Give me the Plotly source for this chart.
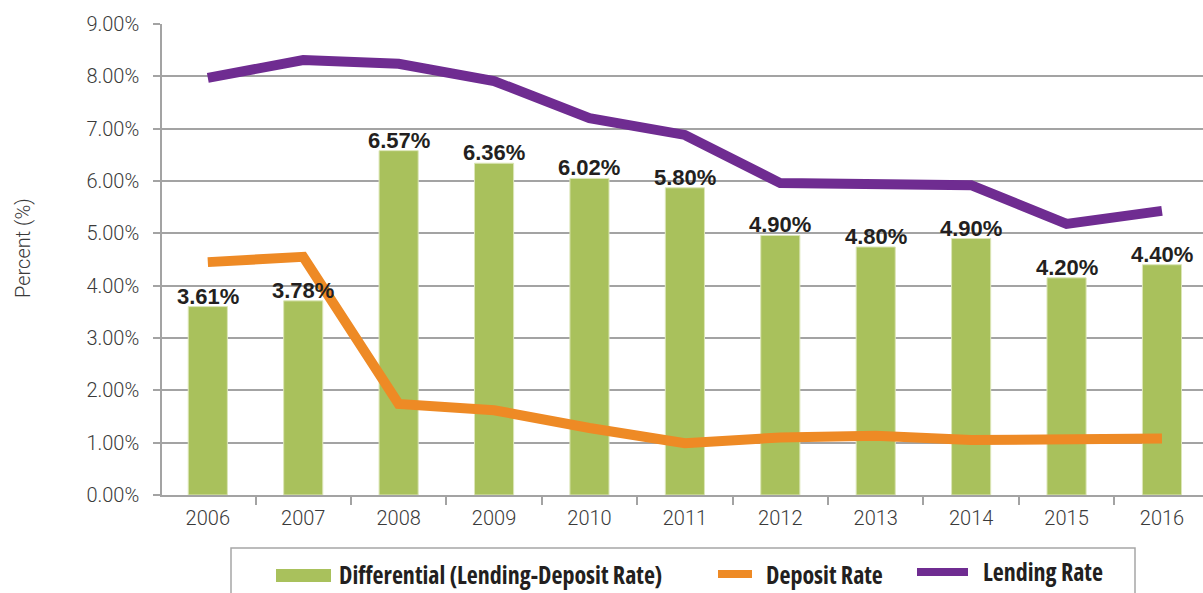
import plotly.graph_objects as go

years = ["2006", "2007", "2008", "2009", "2010", "2011", "2012", "2013", "2014", "2015", "2016"]
differential = [3.60, 3.71, 6.58, 6.34, 6.05, 5.87, 4.96, 4.74, 4.90, 4.15, 4.40]
differential_labels = ["3.61%", "3.78%", "6.57%", "6.36%", "6.02%", "5.80%", "4.90%", "4.80%", "4.90%", "4.20%", "4.40%"]
deposit_rate = [4.45, 4.55, 1.74, 1.62, 1.28, 0.99, 1.10, 1.13, 1.05, 1.05, 1.08]
lending_rate = [7.97, 8.31, 8.24, 7.91, 7.20, 6.88, 5.96, 5.94, 5.92, 5.18, 5.43]
series_names = ["Differential (Lending-Deposit Rate)", "Deposit Rate", "Lending Rate"]
y_title = "Percent (%)"
y_ticks = [0, 1, 2, 3, 4, 5, 6, 7, 8, 9]
y_tick_text = [f"{v:.2f}%" for v in y_ticks]

GREEN = "#a9c15c"
ORANGE = "#ee8a25"
PURPLE = "#6f2c91"
GRID = "#a3a3a3"
TXT = "#3a3a3a"
LIGHT_FAMILY = "Roboto, Liberation Sans, Arial, sans-serif"
LIGHT_FONT = dict(family=LIGHT_FAMILY, size=20, color=TXT, weight=300)

W, H = 1203, 593
ML, MR, MT, MB = 162, 0, 24, 98
PW, PH = W - ML - MR, H - MT - MB

def px_x(p):
    return (p - ML) / PW

def px_y(p):
    return (H - MB - p) / PH

fig = go.Figure()
fig.add_trace(go.Bar(
    x=years, y=differential, name=series_names[0],
    marker=dict(color=GREEN, line=dict(color="#dce6b8", width=1)),
    width=0.41, showlegend=False,
))
fig.add_trace(go.Scatter(
    x=years, y=deposit_rate, name=series_names[1], mode="lines",
    line=dict(color=ORANGE, width=10), showlegend=False, cliponaxis=False,
))
fig.add_trace(go.Scatter(
    x=years, y=lending_rate, name=series_names[2], mode="lines",
    line=dict(color=PURPLE, width=10), showlegend=False, cliponaxis=False,
))

# value labels above the bars (drawn on top of the lines); x is the category index
label_font = dict(family="Liberation Sans, Arial, sans-serif", size=22, color="#231f20", weight="bold")
annotations = [
    dict(text=lab, x=i, y=val, xref="x", yref="y", xanchor="center", yanchor="bottom",
         yshift=-4, showarrow=False, font=label_font)
    for i, (val, lab) in enumerate(zip(differential, differential_labels))
]

# y-axis title
annotations.append(dict(
    text=y_title, xref="paper", yref="paper", x=px_x(23), y=px_y(248),
    xanchor="center", yanchor="middle", textangle=-90, showarrow=False,
    font=dict(family=LIGHT_FAMILY, size=20, color=TXT, weight=300),
))

# legend (framed box at the bottom)
shapes = [
    dict(type="rect", xref="paper", yref="paper",
         x0=px_x(231), x1=px_x(1135), y0=px_y(548), y1=px_y(620),
         line=dict(color="#a6a6a6", width=1.5), fillcolor="rgba(0,0,0,0)", layer="above"),
    dict(type="rect", xref="paper", yref="paper",
         x0=px_x(276), x1=px_x(331), y0=px_y(569), y1=px_y(582),
         line=dict(width=0), fillcolor=GREEN),
    dict(type="line", xref="paper", yref="paper",
         x0=px_x(718), x1=px_x(752), y0=px_y(574), y1=px_y(574),
         line=dict(color=ORANGE, width=8)),
    dict(type="line", xref="paper", yref="paper",
         x0=px_x(917), x1=px_x(968), y0=px_y(572), y1=px_y(572),
         line=dict(color=PURPLE, width=8)),
]
legend_font = dict(family="Open Sans, Liberation Sans, Arial, sans-serif", size=24,
                   color="#231f20", weight="bold")

def condensed(s):
    return f'<span style="font-stretch:condensed;font-stretch:75%">{s}</span>'

for name, xp, yp in zip(series_names, [337, 764, 981], [574, 574, 571]):
    annotations.append(dict(
        text=condensed(name), xref="paper", yref="paper", x=px_x(xp), y=px_y(yp),
        xanchor="left", yanchor="middle", showarrow=False, font=legend_font,
    ))

fig.update_layout(
    width=W, height=H,
    margin=dict(l=ML, r=MR, t=MT, b=MB, autoexpand=False),
    paper_bgcolor="white", plot_bgcolor="white",
    showlegend=False,
    shapes=shapes, annotations=annotations,
)
fig.update_xaxes(
    type="category", range=[-0.48, 10.43],
    showgrid=False, showline=True, linecolor=GRID, linewidth=1.5,
    ticks="outside", tickson="boundaries", ticklen=8, tickcolor=GRID, tickwidth=1.5,
    tickfont=LIGHT_FONT, ticklabelstandoff=4, automargin=False,
)
fig.update_yaxes(
    range=[0, 9], tickmode="array", tickvals=y_ticks, ticktext=y_tick_text,
    showgrid=True, gridcolor=GRID, gridwidth=1.5,
    showline=True, linecolor=GRID, linewidth=1.5, zeroline=False,
    ticks="outside", ticklen=7, tickcolor=GRID, tickwidth=1.5,
    tickfont=LIGHT_FONT, ticklabelstandoff=10,
    automargin=False,
)

fig.write_html("out.html", config={"displayModeBar": False},
               post_script="document.body.style.margin='0px';")
